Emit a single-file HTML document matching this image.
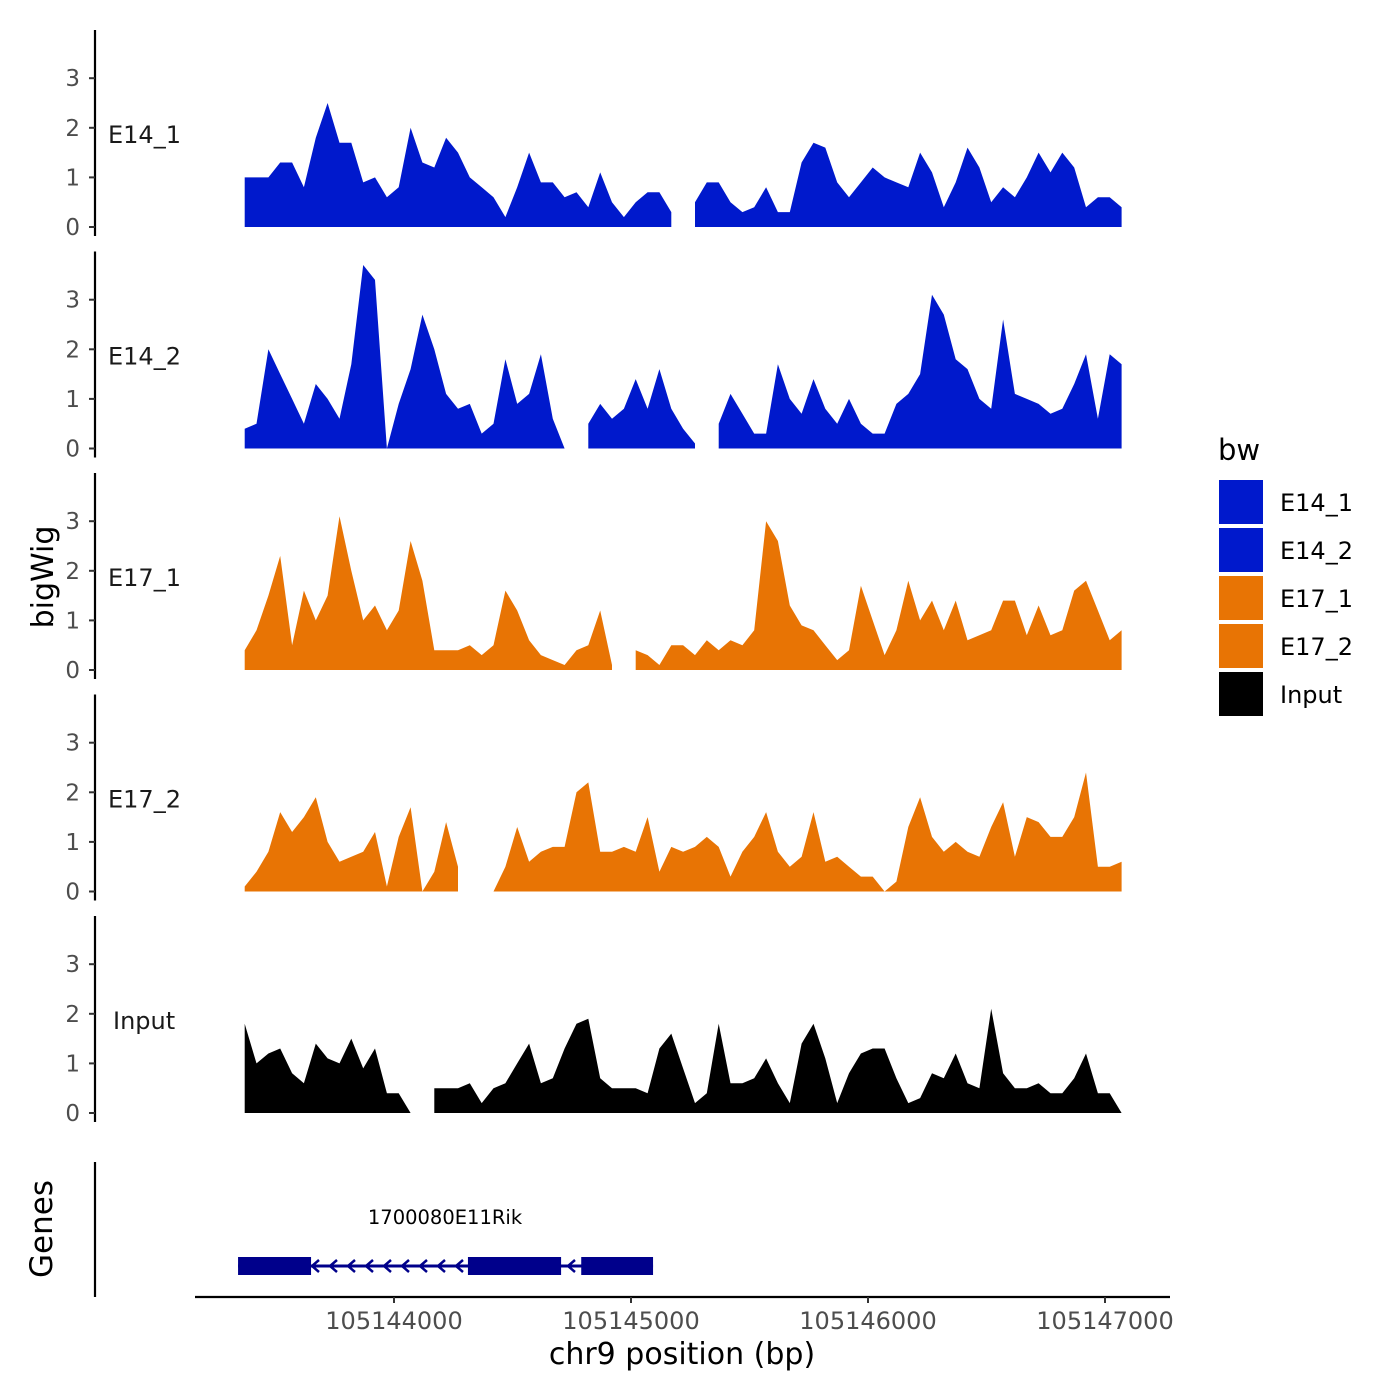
<!DOCTYPE html>
<html><head><meta charset="utf-8"><style>
html,body{margin:0;padding:0;background:#fff;}
svg{display:block;font-family:"DejaVu Sans","Liberation Sans",sans-serif;}
</style></head><body>
<svg id="chart" width="1400" height="1400" viewBox="0 0 1400 1400" xmlns="http://www.w3.org/2000/svg">
<rect width="1400" height="1400" fill="#fff"/>
<g id="panels"></g>
<g id="genes"></g>
<g id="xaxis"></g>
<text transform="translate(53,577) rotate(-90)" text-anchor="middle" font-size="30" fill="#000">bigWig</text>
<text transform="translate(52,1229) rotate(-90)" text-anchor="middle" font-size="31" fill="#000">Genes</text>
<text x="682" y="1364" text-anchor="middle" font-size="30" fill="#000">chr9 position (bp)</text>
<g id="legend"></g>
</svg>
<script>
const NS="http://www.w3.org/2000/svg";
const seriesNames=["E14_1","E14_2","E17_1","E17_2","Input"];
const seriesColors=["#0019CC","#0019CC","#E87404","#E87404","#000000"];
const startBp=105143370, stepBp=50;
const e14_1=[1.0,1.0,1.0,1.3,1.3,0.8,1.8,2.5,1.7,1.7,0.9,1.0,0.6,0.8,2.0,1.3,1.2,1.8,1.5,1.0,0.8,0.6,0.2,0.8,1.5,0.9,0.9,0.6,0.7,0.4,1.1,0.5,0.2,0.5,0.7,0.7,0.3,null,0.5,0.9,0.9,0.5,0.3,0.4,0.8,0.3,0.3,1.3,1.7,1.6,0.9,0.6,0.9,1.2,1.0,0.9,0.8,1.5,1.1,0.4,0.9,1.6,1.2,0.5,0.8,0.6,1.0,1.5,1.1,1.5,1.2,0.4,0.6,0.6,0.4];
const e14_2=[0.4,0.5,2.0,1.5,1.0,0.5,1.3,1.0,0.6,1.7,3.7,3.4,0.0,0.9,1.6,2.7,2.0,1.1,0.8,0.9,0.3,0.5,1.8,0.9,1.1,1.9,0.6,0.0,null,0.5,0.9,0.6,0.8,1.4,0.8,1.6,0.8,0.4,0.1,null,0.5,1.1,0.7,0.3,0.3,1.7,1.0,0.7,1.4,0.8,0.5,1.0,0.5,0.3,0.3,0.9,1.1,1.5,3.1,2.7,1.8,1.6,1.0,0.8,2.6,1.1,1.0,0.9,0.7,0.8,1.3,1.9,0.6,1.9,1.7];
const e17_1=[0.4,0.8,1.5,2.3,0.5,1.6,1.0,1.5,3.1,2.0,1.0,1.3,0.8,1.2,2.6,1.8,0.4,0.4,0.4,0.5,0.3,0.5,1.6,1.2,0.6,0.3,0.2,0.1,0.4,0.5,1.2,0.1,null,0.4,0.3,0.1,0.5,0.5,0.3,0.6,0.4,0.6,0.5,0.8,3.0,2.6,1.3,0.9,0.8,0.5,0.2,0.4,1.7,1.0,0.3,0.8,1.8,1.0,1.4,0.8,1.4,0.6,0.7,0.8,1.4,1.4,0.7,1.3,0.7,0.8,1.6,1.8,1.2,0.6,0.8];
const e17_2=[0.1,0.4,0.8,1.6,1.2,1.5,1.9,1.0,0.6,0.7,0.8,1.2,0.1,1.1,1.7,0.0,0.4,1.4,0.5,null,null,0.0,0.5,1.3,0.6,0.8,0.9,0.9,2.0,2.2,0.8,0.8,0.9,0.8,1.5,0.4,0.9,0.8,0.9,1.1,0.9,0.3,0.8,1.1,1.6,0.8,0.5,0.7,1.6,0.6,0.7,0.5,0.3,0.3,0.0,0.2,1.3,1.9,1.1,0.8,1.0,0.8,0.7,1.3,1.8,0.7,1.5,1.4,1.1,1.1,1.5,2.4,0.5,0.5,0.6];
const input=[1.8,1.0,1.2,1.3,0.8,0.6,1.4,1.1,1.0,1.5,0.9,1.3,0.4,0.4,0.0,null,0.5,0.5,0.5,0.6,0.2,0.5,0.6,1.0,1.4,0.6,0.7,1.3,1.8,1.9,0.7,0.5,0.5,0.5,0.4,1.3,1.6,0.9,0.2,0.4,1.8,0.6,0.6,0.7,1.1,0.6,0.2,1.4,1.8,1.1,0.2,0.8,1.2,1.3,1.3,0.7,0.2,0.3,0.8,0.7,1.2,0.6,0.5,2.1,0.8,0.5,0.5,0.6,0.4,0.4,0.7,1.2,0.4,0.4,0.0];
const seriesData=[e14_1,e14_2,e17_1,e17_2,input];
const yTicks=[0,1,2,3];
const xTicks=[105144000,105145000,105146000,105147000];
const xTickLabels=["105144000","105145000","105146000","105147000"];
const geneName="1700080E11Rik";
const geneExons=[[105143342,105143650],[105144312,105144705],[105144790,105145093]];
const geneStart=105143342, geneEnd=105145093;

function xScale(bp){return 394+(bp-105144000)*0.237;}
const panelZero=[227,448.5,670,891.5,1113];
function yScale(p,v){return panelZero[p]-v*49.6;}
function el(tag,attrs,parent){const e=document.createElementNS(NS,tag);for(const k in attrs)e.setAttribute(k,attrs[k]);parent.appendChild(e);return e;}

const panels=document.getElementById('panels');
seriesNames.forEach((name,p)=>{
  const g=el('g',{},panels);
  
  
  const z=panelZero[p];
  const ax=el('line',{x1:95,x2:95,y1:z-197,y2:z+9,stroke:'#000','stroke-width':2.2},g);
  
  
  yTicks.forEach(t=>{
    const y=yScale(p,t);
    const tk=el('line',{x1:89,x2:95,y1:y,y2:y,stroke:'#333','stroke-width':2},g);
    
    
    const tl=el('text',{x:80,y:y+8,'text-anchor':'end','font-size':23,fill:'#4d4d4d'},g);
    tl.textContent=t;
    
    
  });
  const lab=el('text',{x:name==='Input'?113:108,y:z-84,'font-size':24,fill:'#1a1a1a'},g);
  lab.textContent=name;
  
  
  const d=seriesData[p];
  let runs=[],cur=[];
  d.forEach((v,i)=>{if(v===null){if(cur.length)runs.push(cur);cur=[];}else cur.push([startBp+i*stepBp,v]);});
  if(cur.length)runs.push(cur);
  runs.forEach(r=>{
    let s='M'+xScale(r[0][0]).toFixed(1)+','+z;
    r.forEach(([bp,v])=>{s+=' L'+xScale(bp).toFixed(1)+','+yScale(p,v).toFixed(1);});
    s+=' L'+xScale(r[r.length-1][0]).toFixed(1)+','+z+' Z';
    const a=el('path',{d:s,fill:seriesColors[p]},g);
    
    
  });
});

const gg=document.getElementById('genes');
const gax=el('line',{x1:95,x2:95,y1:1162,y2:1297,stroke:'#000','stroke-width':2.2},gg);


const gl=el('line',{x1:xScale(geneStart),x2:xScale(geneEnd),y1:1266,y2:1266,stroke:'#00008B','stroke-width':3},gg);


for(let x=312;x<460;x+=18){
  const ar=el('path',{d:`M${x+7},1260 L${x},1266 L${x+7},1272`,stroke:'#00008B','stroke-width':2.5,fill:'none'},gg);
  
  
}
{const ar=el('path',{d:`M${575},1260 L${568},1266 L${575},1272`,stroke:'#00008B','stroke-width':2.5,fill:'none'},gg);

}
geneExons.forEach(([a,b])=>{
  const r=el('rect',{x:xScale(a),y:1257,width:xScale(b)-xScale(a),height:18,fill:'#00008B'},gg);
  
  
});
const gt=el('text',{x:445,y:1224,'text-anchor':'middle','font-size':19.5,fill:'#000'},gg);
gt.textContent=geneName;



const xa=document.getElementById('xaxis');
const xl=el('line',{x1:195,x2:1170,y1:1297,y2:1297,stroke:'#000','stroke-width':2.2},xa);


xTicks.forEach((t,i)=>{
  const x=xScale(t);
  const tk=el('line',{x1:x,x2:x,y1:1297,y2:1303,stroke:'#333','stroke-width':2},xa);
  
  
  const tl=el('text',{x:x,y:1329,'text-anchor':'middle','font-size':24,fill:'#4d4d4d'},xa);
  tl.textContent=xTickLabels[i];
  
  
});

const lg=document.getElementById('legend');
const lt=el('text',{x:1218,y:460,'font-size':29,fill:'#000'},lg);
lt.textContent='bw';


seriesNames.forEach((n,i)=>{
  const y=480+i*48;
  const r=el('rect',{x:1219,y:y,width:44,height:44,fill:seriesColors[i]},lg);
  
  
  const t=el('text',{x:1280,y:y+31,'font-size':24,fill:'#000'},lg);
  t.textContent=n;
  
  
});
</script>
</body></html>
